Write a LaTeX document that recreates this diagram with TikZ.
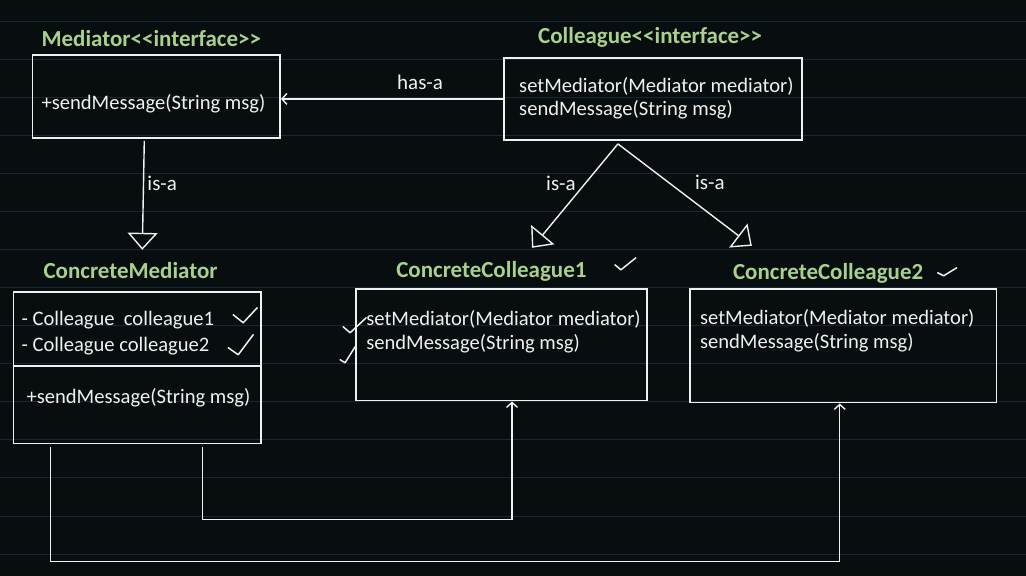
\documentclass[tikz,border=0pt]{standalone}
\usepackage{fontspec}
\setmainfont{Carlito}[Ligatures=TeXOff]
\usepackage{tikz}
\usetikzlibrary{positioning, arrows.meta}
\definecolor{boardbg}{RGB}{8,14,15}
\definecolor{ruleline}{RGB}{24,40,50}
\definecolor{titlegreen}{RGB}{169,209,142}
\definecolor{chalk}{RGB}{240,240,240}

\begin{document}
\begin{tikzpicture}[x=1pt, y=-1pt,
	umlbox/.style={draw=chalk, line width=1.6pt, rectangle, inner sep=0pt},
	umltitle/.style={text=titlegreen, font=\fontsize{23}{27}\selectfont\bfseries, anchor=west, inner sep=0pt},
	member/.style={text=chalk, font=\fontsize{20.6}{25}\selectfont, anchor=west, inner sep=0pt},
	rel/.style={text=chalk, font=\fontsize{21}{25}\selectfont, inner sep=0pt},
	connector/.style={draw=chalk, line width=1.4pt},
	hasa/.style={connector, -{Straight Barb[length=5pt, width=11pt]}},
	isa/.style={connector, -{Triangle[open, length=17pt, width=30pt]}},
	handtick/.style={draw=chalk, line width=1.5pt, line cap=round, line join=round}]
	% Board background with ruled lines
	\fill[boardbg] (0,0) rectangle (1026,576);
	\foreach \k in {0,...,14}
		\draw[ruleline, line width=0.8pt] (0,{21+38.1*\k}) -- (1026,{21+38.1*\k});
	
	% Interfaces
	\node[umltitle] (medtitle) at (41,39) {Mediator<<interface>>};
	\node[umlbox, minimum width=248pt, minimum height=83pt] (med) at (156,96.5) {};
	\node[member] (medsend) at (41,104) {+sendMessage(String msg)};
	
	\node[umltitle] (coltitle) at (538,37) {Colleague<<interface>>};
	\node[umlbox, minimum width=298pt, minimum height=82pt] (col) at (653,99) {};
	\node[member] (colset) at (519,86) {setMediator(Mediator mediator)};
	\node[member] (colsend) at (519,110) {sendMessage(String msg)};
	
	% Concrete classes
	\node[umltitle] (cmtitle) at (43,271) {ConcreteMediator};
	\node[umlbox, minimum width=248pt, minimum height=152pt] (cm) at (137,368) {};
	\draw[umlbox] ([yshift=2pt]cm.west) -- ([yshift=2pt]cm.east);
	\node[member] (cmcol1) at (21,320) {- Colleague\ \ colleague1};
	\node[member] (cmcol2) at (21,346) {- Colleague colleague2};
	\node[member] (cmsend) at (26,398) {+sendMessage(String msg)};
	
	\node[umltitle] (cc1title) at (396,272) {ConcreteColleague1};
	\node[umlbox, minimum width=291pt, minimum height=112pt] (cc1) at (501.5,345) {};
	\node[member] (cc1set) at (366,320) {setMediator(Mediator mediator)};
	\node[member] (cc1send) at (366,344) {sendMessage(String msg)};
	
	\node[umltitle] (cc2title) at (733,274) {ConcreteColleague2};
	\node[umlbox, minimum width=307pt, minimum height=114pt] (cc2) at (843.5,346) {};
	\node[member] (cc2set) at (700,319) {setMediator(Mediator mediator)};
	\node[member] (cc2send) at (700,343) {sendMessage(String msg)};
	
	% Relations
	\draw[hasa] (col.west) -- (col.west -| med.east);
	\node[rel] (hasalabel) at (420,82) {has-a};
	
	\coordinate (medfoot) at (144,141);
	\coordinate (cmtip) at (142,250);
	\draw[isa] (medfoot) -- (cmtip);
	\node[rel, anchor=west] (isamed) at (147,183) {is-a};
	
	\coordinate (fork) at (618,144);
	\coordinate (cc1tip) at (532,248);
	\coordinate (cc2tip) at (752,246);
	\draw[isa] (fork) -- (cc1tip);
	\draw[isa] (fork) -- (cc2tip);
	\node[rel] (isacc1) at (561,183) {is-a};
	\node[rel] (isacc2) at (710,182) {is-a};
	
	% Mediator reaches both colleagues
	\draw[hasa] ([xshift=65pt, yshift=-3pt]cm.south) -- ++(0,72) -| ([xshift=10.5pt]cc1.south);
	\draw[hasa] ([xshift=-87pt, yshift=-3pt]cm.south) -- ++(0,114) -| ([xshift=-3.5pt]cc2.south);
	
	% Hand ticks
	\draw[handtick] (233,315) -- (243,323) -- (257,308);
	\draw[handtick] (228,348) -- (238,355) -- (253,335);
	\draw[handtick] (343,327) -- (350,333) -- (366,318);
	\draw[handtick] (340,360) -- (345,363) -- (355,347);
	\draw[handtick] (615,265) -- (621,270) -- (636,258);
	\draw[handtick] (938,273) -- (944,276) -- (957,268);
\end{tikzpicture}
\end{document}
